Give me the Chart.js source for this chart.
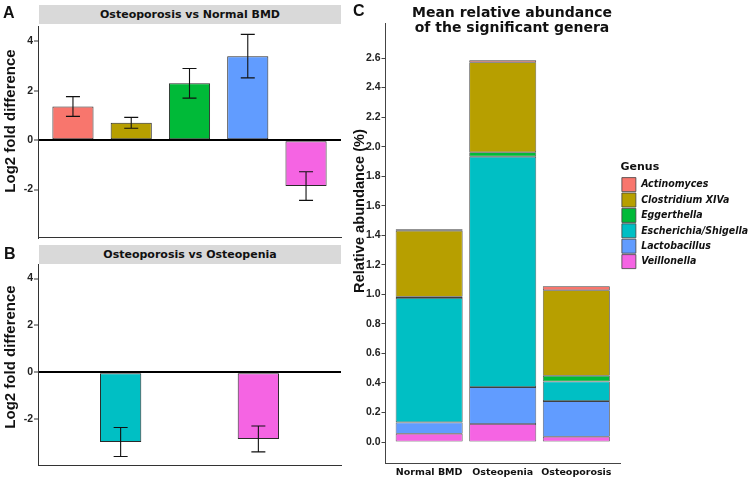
<!DOCTYPE html>
<html>
<head>
<meta charset="utf-8">
<script src="https://cdn.jsdelivr.net/npm/chart.js@4.4.1/dist/chart.umd.min.js"></script>
<style>
  body { margin: 0; background: #fff; }
  #fig { position: relative; width: 750px; height: 481px; overflow: hidden; background: #fff; }
  canvas { position: absolute; }
  .txt { position: absolute; white-space: nowrap; color: #111; }
  .panel { font: bold 16px 'Liberation Sans', Arial, sans-serif; line-height: 16px; }
  .strip { background: #d9d9d9; text-align: center; font: bold 11px 'DejaVu Sans', sans-serif; height: 19px; line-height: 19px; width: 302px; left: 39px; }
  .ytitle { font: bold 15px 'Liberation Sans', Arial, sans-serif; line-height: 15px; transform: translate(-50%, -50%) rotate(-90deg); }
  .ctitle { font: bold 14px 'DejaVu Sans', sans-serif; line-height: 15.4px; text-align: center; width: 240px; }
</style>
</head>
<body>
<div id="fig">
  <canvas id="chartA" width="345" height="245" style="left:0;top:0"></canvas>
  <canvas id="chartB" width="345" height="235" style="left:0;top:240px"></canvas>
  <canvas id="chartC" width="418" height="481" style="left:340px;top:0"></canvas>

  <div class="txt panel" style="left:3px;top:5px">A</div>
  <div class="txt panel" style="left:4px;top:246px">B</div>
  <div class="txt panel" style="left:353px;top:3px">C</div>

  <div class="txt strip" style="top:5px">Osteoporosis vs Normal BMD</div>
  <div class="txt strip" style="top:245px">Osteoporosis vs Osteopenia</div>

  <div class="txt ytitle" style="left:9px;top:121px">Log2 fold difference</div>
  <div class="txt ytitle" style="left:9px;top:357px">Log2 fold difference</div>
  <div class="txt ytitle" style="left:359px;top:211px;font-size:14.6px">Relative abundance (%)</div>

  <div class="txt ctitle" style="left:392px;top:5px">Mean relative abundance<br>of the significant genera</div>
</div>

<script>
// ggplot default hues, one per genus
var genusColors = {
  'Actinomyces': '#F8766D',
  'Clostridium XIVa': '#B79F00',
  'Eggerthella': '#00BA38',
  'Escherichia/Shigella': '#00BFC4',
  'Lactobacillus': '#619CFF',
  'Veillonella': '#F564E3'
};

// A - Osteoporosis vs Normal BMD
var genusA = ['Actinomyces', 'Clostridium XIVa', 'Eggerthella', 'Lactobacillus', 'Veillonella'];
var lfcA = [1.36, 0.70, 2.30, 3.40, -1.86];
var errA = [0.40, 0.22, 0.60, 0.88, 0.58];

// B - Osteoporosis vs Osteopenia
var genusB = ['Escherichia/Shigella', 'Veillonella'];
var lfcB = [-2.97, -2.84];
var errB = [0.62, 0.55];

var lfcTicks = [-2, 0, 2, 4];

// C - mean relative abundance (%)
var groups = ['Normal BMD', 'Osteopenia', 'Osteoporosis'];
var actinomyces = [0.010, 0.014, 0.027];
var clostridium = [0.447, 0.609, 0.579];
var eggerthella = [0.008, 0.030, 0.039];
var escherichia = [0.842, 1.560, 0.133];
var lactobacillus = [0.077, 0.250, 0.241];
var veillonella = [0.056, 0.122, 0.036];
var abundanceTicks = [0, 0.2, 0.4, 0.6, 0.8, 1.0, 1.2, 1.4, 1.6, 1.8, 2.0, 2.2, 2.4, 2.6];

var tickFont = { family: "'Liberation Sans', Arial, sans-serif", size: 10.5, weight: 'bold' };

var errorBars = {
  id: 'errorBars',
  afterDatasetsDraw: function (chart) {
    var ds = chart.data.datasets[0];
    if (!ds.errors) return;
    var y = chart.scales.y;
    var ctx = chart.ctx;
    var meta = chart.getDatasetMeta(0);
    ctx.save();
    ctx.strokeStyle = '#111';
    ctx.lineWidth = 1.1;
    meta.data.forEach(function (bar, i) {
      var v = ds.data[i].y, e = ds.errors[i];
      var top = y.getPixelForValue(v + e), bot = y.getPixelForValue(v - e);
      ctx.beginPath();
      ctx.moveTo(bar.x, top); ctx.lineTo(bar.x, bot);
      ctx.moveTo(bar.x - 7, top); ctx.lineTo(bar.x + 7, top);
      ctx.moveTo(bar.x - 7, bot); ctx.lineTo(bar.x + 7, bot);
      ctx.stroke();
    });
    ctx.restore();
  }
};

function lfcChart(id, genus, lfc, err, barPct, pad) {
  return new Chart(document.getElementById(id), {
    type: 'bar',
    data: {
      datasets: [{
        data: lfc.map(function (v, i) { return { x: i, y: v }; }),
        errors: err,
        backgroundColor: genus.map(function (g) { return genusColors[g]; }),
        borderColor: '#2a2a2a',
        borderWidth: 1,
        borderSkipped: false,
        barPercentage: barPct,
        categoryPercentage: 1
      }]
    },
    options: {
      responsive: false,
      animation: false,
      layout: { padding: pad },
      plugins: { legend: { display: false }, tooltip: { enabled: false } },
      scales: {
        x: {
          type: 'linear',
          offset: false,
          min: -0.6,
          max: genus.length - 0.4,
          afterBuildTicks: function (s) { s.ticks = genus.map(function (g, i) { return { value: i }; }); },
          afterFit: function (s) { s.height = 0; },
          ticks: { display: false },
          grid: { display: false, drawTicks: false },
          border: { color: '#333', width: 1 }
        },
        y: {
          min: -3.95,
          max: 4.62,
          z: 1,
          afterBuildTicks: function (s) { s.ticks = lfcTicks.map(function (v) { return { value: v }; }); },
          afterFit: function (s) { s.width = 38; },
          ticks: { font: tickFont, color: '#222', padding: 1, callback: function (v) { return String(v); } },
          grid: {
            color: function (c) { return c.tick && c.tick.value === 0 ? '#000' : 'rgba(0,0,0,0)'; },
            lineWidth: 2,
            tickColor: '#333',
            tickWidth: 1,
            tickLength: 4
          },
          border: { color: '#333', width: 1 }
        }
      }
    },
    plugins: [errorBars]
  });
}

lfcChart('chartA', genusA, lfcA, errA, 0.706, { left: 0, top: 26, right: 4, bottom: 7 });
lfcChart('chartB', genusB, lfcB, errB, 0.30, { left: 0, top: 24, right: 4, bottom: 10 });

// stacked from the bottom up, legend reversed so Actinomyces is listed first
var stack = [
  ['Veillonella', veillonella],
  ['Lactobacillus', lactobacillus],
  ['Escherichia/Shigella', escherichia],
  ['Eggerthella', eggerthella],
  ['Clostridium XIVa', clostridium],
  ['Actinomyces', actinomyces]
];

new Chart(document.getElementById('chartC'), {
  type: 'bar',
  data: {
    datasets: stack.map(function (s) {
      return {
        label: s[0],
        data: s[1].map(function (v, i) { return { x: i, y: v }; }),
        backgroundColor: genusColors[s[0]],
        borderColor: '#404040',
        borderWidth: 0.8,
        borderSkipped: false,
        barPercentage: 0.91,
        categoryPercentage: 1
      };
    })
  },
  options: {
    responsive: false,
    animation: false,
    layout: { padding: { left: 0, top: 23, right: 0, bottom: 0 } },
    plugins: {
      tooltip: { enabled: false },
      legend: {
        position: 'right',
        align: 'start',
        reverse: true,
        maxWidth: 160,
        title: {
          display: true,
          text: 'Genus',
          position: 'start',
          color: '#111',
          font: { family: "'DejaVu Sans', sans-serif", size: 11, weight: 'bold' },
          padding: { top: 139, bottom: 1 }
        },
        labels: {
          boxWidth: 14,
          boxHeight: 14,
          padding: 1.4,
          color: '#111',
          font: { family: "'DejaVu Sans Condensed', 'DejaVu Sans', sans-serif", size: 10.5, weight: 'bold', style: 'italic' }
        }
      }
    },
    scales: {
      x: {
        type: 'linear',
        stacked: true,
        offset: false,
        min: -0.6,
        max: 2.6,
        afterBuildTicks: function (s) { s.ticks = groups.map(function (g, i) { return { value: i }; }); },
        afterFit: function (s) { s.height = 18; },
        ticks: {
          padding: 4,
          color: '#111',
          font: { family: "'DejaVu Sans', sans-serif", size: 9.5, weight: 'bold' },
          callback: function (v) { return groups[v]; }
        },
        grid: { display: false, drawTicks: false },
        border: { color: '#444', width: 1 }
      },
      y: {
        stacked: true,
        min: -0.142,
        max: 2.837,
        afterBuildTicks: function (s) { s.ticks = abundanceTicks.map(function (v) { return { value: v }; }); },
        afterFit: function (s) { s.width = 45; },
        ticks: { font: tickFont, color: '#222', padding: 1, callback: function (v) { return v.toFixed(1); } },
        grid: { drawOnChartArea: false, tickColor: '#444', tickLength: 3.5 },
        border: { color: '#444', width: 1 }
      }
    }
  }
});
</script>
</body>
</html>
